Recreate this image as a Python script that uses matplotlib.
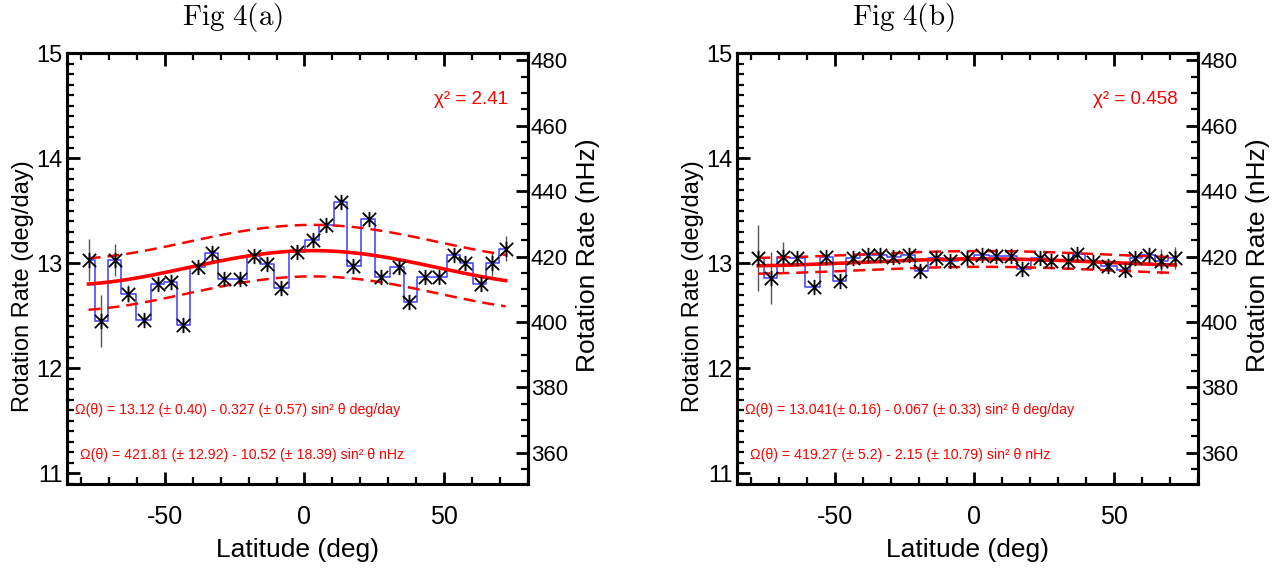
import matplotlib
matplotlib.use("Agg")
import matplotlib.pyplot as plt
import numpy as np
from matplotlib.path import Path
from matplotlib.ticker import MultipleLocator


plt.rcParams['font.family'] = ['Liberation Sans', 'DejaVu Sans']
plt.rcParams['mathtext.fontset'] = 'cm'
plt.rcParams['axes.unicode_minus'] = False

# ---------- data
# Fig 4(a)
lat_a = [-77.3, -72.9, -67.9, -63.3, -57.5, -52.4, -47.9, -43.5, -38.1, -33.1,
         -28.8, -23.2, -18.2, -13.3, -8.3, -2.7, 3.0, 7.7, 13.1, 17.3,
         23.2, 27.4, 33.7, 37.5, 43.1, 48.2, 53.6, 57.5, 63.1, 67.0, 72.0]
omega_a = [13.03, 12.45, 13.03, 12.71, 12.46, 12.80, 12.82, 12.41, 12.96, 13.10,
           12.85, 12.85, 13.07, 12.99, 12.76, 13.11, 13.22, 13.36, 13.58, 12.97,
           13.42, 12.87, 12.96, 12.63, 12.87, 12.87, 13.08, 13.00, 12.80, 13.00,
           13.14]
err_a = [0.20, 0.25, 0.15, 0.08, 0.05, 0.05, 0.05, 0.05, 0.05, 0.05,
         0.05, 0.05, 0.05, 0.05, 0.05, 0.05, 0.05, 0.05, 0.05, 0.05,
         0.05, 0.05, 0.05, 0.05, 0.05, 0.05, 0.05, 0.06, 0.06, 0.12,
         0.12]

# Fig 4(b)
lat_b = [-77.4, -73.0, -68.6, -63.5, -57.5, -53.1, -48.3, -43.6, -38.2, -33.8,
         -29.0, -23.3, -19.4, -13.8, -8.7, -2.8, 2.6, 7.6, 13.0, 17.1,
         23.5, 27.3, 33.6, 36.8, 42.5, 47.9, 53.8, 57.4, 62.6, 66.8, 71.9]
omega_b = [13.05, 12.86, 13.06, 13.05, 12.77, 13.06, 12.83, 13.05, 13.08, 13.08,
           13.06, 13.08, 12.93, 13.05, 13.02, 13.05, 13.08, 13.07, 13.07, 12.95,
           13.05, 13.02, 13.02, 13.09, 13.01, 12.97, 12.94, 13.05, 13.08, 13.02,
           13.05]
err_b = [0.31, 0.25, 0.14, 0.05, 0.04, 0.04, 0.04, 0.04, 0.04, 0.04,
         0.04, 0.04, 0.04, 0.04, 0.04, 0.04, 0.04, 0.04, 0.04, 0.04,
         0.04, 0.04, 0.04, 0.04, 0.04, 0.04, 0.04, 0.05, 0.06, 0.12,
         0.10]

# fit parameters: A, B, band half-width
fit_a = (13.12, -0.327, 0.245)
fit_b = (13.041, -0.067, 0.075)

titles = ["Fig 4(a)", "Fig 4(b)"]
chi2_labels = ["χ² = 2.41", "χ² = 0.458"]
eq_labels = [
    ["Ω(θ) = 13.12 (± 0.40) - 0.327 (± 0.57) sin² θ deg/day",
     "Ω(θ) = 421.81 (± 12.92) - 10.52 (± 18.39) sin² θ nHz"],
    ["Ω(θ) = 13.041(± 0.16) - 0.067 (± 0.33) sin² θ deg/day",
     "Ω(θ) = 419.27 (± 5.2) - 2.15 (± 10.79) sin² θ nHz"],
]

# asterisk marker (x plus vertical bar)
star = Path([(-1, -1), (1, 1), (-1, 1), (1, -1), (0, -1.15), (0, 1.15)],
            [Path.MOVETO, Path.LINETO, Path.MOVETO, Path.LINETO,
             Path.MOVETO, Path.LINETO])

W, H = 1277, 576
AX_W, AX_H, AX_BOTTOM = 461, 431, 484


# ----------
def setup_axes(ax, ax2):
    ax.set_xlim(-85, 80)
    ax.set_ylim(10.9, 15.0)
    ax2.set_ylim(10.9 * 32.15, 15.0 * 32.15)

    ax.xaxis.set_major_locator(MultipleLocator(50))
    ax.xaxis.set_minor_locator(MultipleLocator(10))
    ax.yaxis.set_major_locator(MultipleLocator(1))
    ax.yaxis.set_minor_locator(MultipleLocator(0.1))
    ax2.yaxis.set_major_locator(MultipleLocator(20))
    ax2.yaxis.set_minor_locator(MultipleLocator(5))

    ax.tick_params(which='both', direction='in', top=True, right=False,
                   labelsize=17)
    ax.tick_params(which='major', length=9, width=2)
    ax.tick_params(which='minor', length=5, width=1.6)
    ax.tick_params(axis='x', pad=15, labelsize=18)
    ax.tick_params(axis='y', pad=3)
    ax2.tick_params(which='both', direction='in', labelsize=16, pad=2)
    ax2.tick_params(which='major', length=9, width=2)
    ax2.tick_params(which='minor', length=5, width=1.6)

    for sp in ax.spines.values():
        sp.set_linewidth(2.2)
    for sp in ax2.spines.values():
        sp.set_linewidth(2.2)

    ax.set_xlabel("Latitude (deg)", fontsize=19)
    ax.xaxis.set_label_coords(0.5, (AX_BOTTOM - 550) / AX_H)
    ax.xaxis.label.set_va('center')

    ax.set_ylabel("Rotation Rate (deg/day)", fontsize=17)
    ax.yaxis.set_label_coords(-44 / AX_W, (AX_BOTTOM - 286) / AX_H)
    ax.yaxis.label.set_va('center')

    ax2.set_ylabel("Rotation Rate (nHz)", fontsize=19)
    ax2.yaxis.set_label_coords(1 + 60 / AX_W, (AX_BOTTOM - 255) / AX_H)
    ax2.yaxis.label.set_va('center')


# ----------
def draw_panel(ax, lat, omega, err, fit):
    lat = np.array(lat)
    omega = np.array(omega)

    ax.errorbar(lat, omega, yerr=err, fmt='none', ecolor='#555555',
                elinewidth=1.0, zorder=2)
    ax.step(lat, omega, where='mid', color='#3c3cff', lw=1.1, zorder=3)

    a, b, band = fit
    th = np.linspace(lat[0], lat[-1], 300)
    model = a + b * np.sin(np.radians(th - 3.0)) ** 2
    ax.plot(th, model, color='red', lw=2.6, zorder=4)
    ax.plot(th, model + band, color='red', lw=1.8, dashes=(4.8, 2.8), zorder=4)
    ax.plot(th, model - band, color='red', lw=1.8, dashes=(4.8, 2.8), zorder=4)

    ax.plot(lat, omega, ls='none', marker=star, ms=11, mec='black',
            mew=1.3, zorder=5)


fig = plt.figure(figsize=(W / 100, H / 100), dpi=100)

panel_x = [67, 737]
title_x = [233, 903]
for i in range(2):
    x0 = panel_x[i]
    ax = fig.add_axes([x0 / W, 1 - AX_BOTTOM / H, AX_W / W, AX_H / H])
    ax2 = ax.twinx()
    setup_axes(ax, ax2)

    if i == 0:
        draw_panel(ax, lat_a, omega_a, err_a, fit_a)
    else:
        draw_panel(ax, lat_b, omega_b, err_b, fit_b)

    # title in a Computer Modern look
    fig.text(title_x[i] / W, 1 - 18 / H,
             r"$\mathrm{" + titles[i].replace(" ", r"\ ") + "}$",
             ha='center', va='center', fontsize=21)

    fig.text((x0 + 441) / W, 1 - 100 / H, chi2_labels[i], color='red',
             ha='right', va='center', fontsize=13.5)
    fig.text((x0 + 8) / W, 1 - 410 / H, eq_labels[i][0], color='red',
             ha='left', va='center', fontsize=10.2)
    fig.text((x0 + 13) / W, 1 - 455 / H, eq_labels[i][1], color='red',
             ha='left', va='center', fontsize=10.2)

fig.savefig("out.png", dpi=100)
